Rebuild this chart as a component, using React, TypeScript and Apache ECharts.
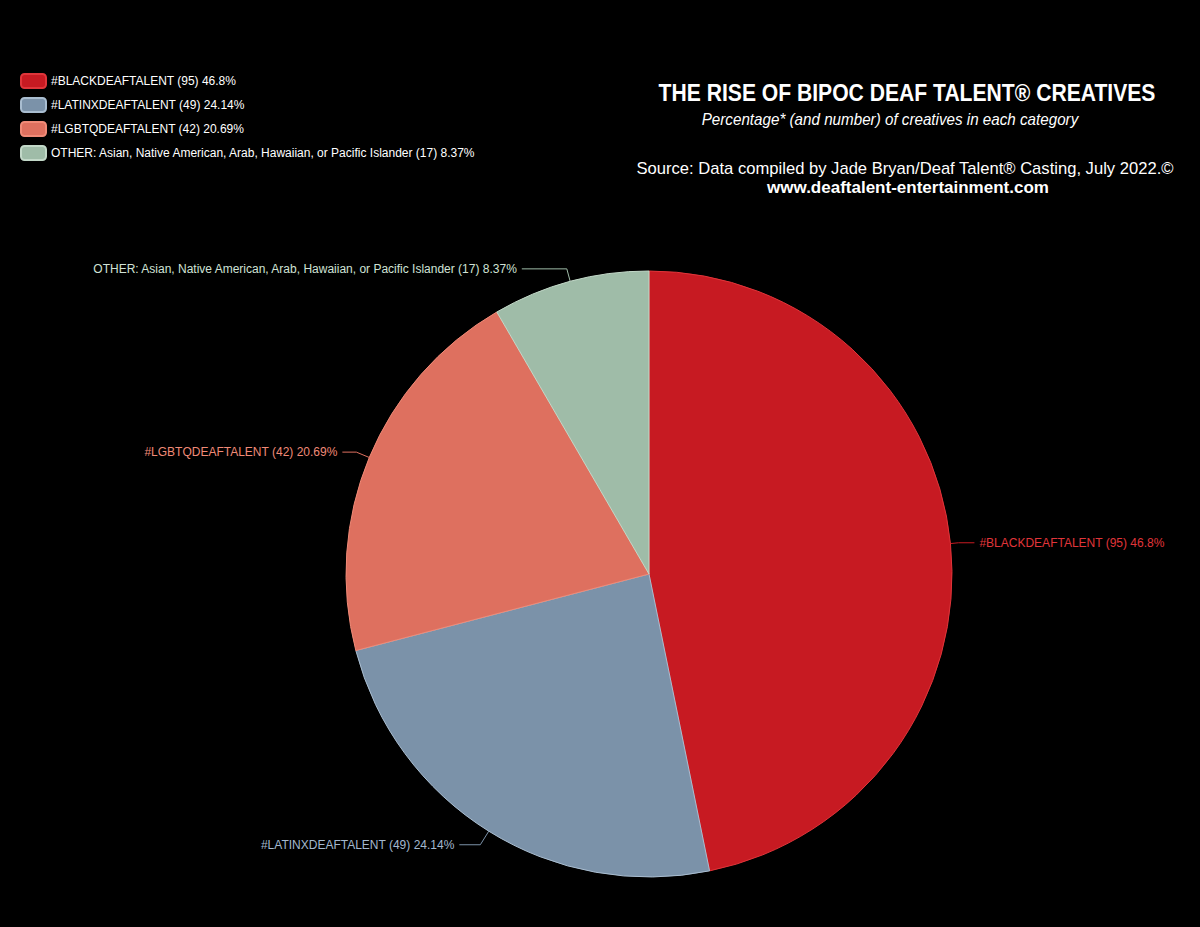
import React, { useEffect, useRef } from "react";
import * as echarts from "echarts";

const categories = [
  "#BLACKDEAFTALENT (95) 46.8%",
  "#LATINXDEAFTALENT (49) 24.14%",
  "#LGBTQDEAFTALENT (42) 20.69%",
  "OTHER: Asian, Native American, Arab, Hawaiian, or Pacific Islander (17) 8.37%",
];
const counts = [95, 49, 42, 17];
const colors = ["#c71a22", "#7b92a9", "#de705f", "#9fbca8"];
const borders = ["#e0353a", "#a9bdd0", "#f08a77", "#c2d8c8"];
const labelColors = ["#e0353a", "#a3b8cf", "#f08a77", "#d0e2d6"];
const lineLengths = [
  [8, 16],
  [16, 21],
  [14, 14],
  [13, 45],
];

const FONT = "'Liberation Sans', Arial, Helvetica, sans-serif";

export default function App() {
  const ref = useRef<HTMLDivElement>(null);
  useEffect(() => {
    document.body.style.margin = "0";
    document.body.style.background = "#000";
    const chart = echarts.init(ref.current!, null, { renderer: "svg" });
    chart.setOption({
      animation: false,
      backgroundColor: "#000",
      graphic: [
        {
          type: "text",
          x: 907,
          y: 93,
          scaleX: 0.88,
          style: {
            text: "THE RISE OF BIPOC DEAF TALENT® CREATIVES",
            fill: "#fff",
            font: `bold 24px ${FONT}`,
            textAlign: "center",
            textVerticalAlign: "middle",
          },
        },
        {
          type: "text",
          x: 890,
          y: 119,
          scaleX: 0.95,
          style: {
            text: "Percentage* (and number) of creatives in each category",
            fill: "#fff",
            font: `italic 16px ${FONT}`,
            textAlign: "center",
            textVerticalAlign: "middle",
          },
        },
        {
          type: "text",
          x: 905,
          y: 168,
          style: {
            text: "Source: Data compiled by Jade Bryan/Deaf Talent® Casting, July 2022.©",
            fill: "#fff",
            font: `16.6px ${FONT}`,
            textAlign: "center",
            textVerticalAlign: "middle",
          },
        },
        {
          type: "text",
          x: 908,
          y: 187,
          style: {
            text: "www.deaftalent-entertainment.com",
            fill: "#fff",
            font: `bold 17px ${FONT}`,
            textAlign: "center",
            textVerticalAlign: "middle",
          },
        },
      ],
      legend: {
        orient: "vertical",
        left: 15,
        top: 68,
        itemWidth: 25,
        itemHeight: 14,
        itemGap: 8,
        icon: "roundRect",
        data: categories,
        textStyle: { color: "#fff", fontSize: 12, fontFamily: FONT },
      },
      series: [
        {
          type: "pie",
          center: [649, 574],
          radius: 303,
          startAngle: 90,
          clockwise: true,
          data: categories.map((c, i) => ({
            name: c,
            value: counts[i],
            itemStyle: { color: colors[i], borderColor: borders[i], borderWidth: 1 },
            label: { color: labelColors[i] },
            labelLine: { length: lineLengths[i][0], length2: lineLengths[i][1] },
          })),
          label: {
            show: true,
            formatter: "{b}",
            fontSize: 12,
            fontFamily: FONT,
          },
          labelLine: { show: true, smooth: false, lineStyle: { width: 1 } },
          emphasis: { disabled: true },
        },
      ],
    });
    return () => chart.dispose();
  }, []);
  return <div ref={ref} style={{ width: 1200, height: 927 }} />;
}
